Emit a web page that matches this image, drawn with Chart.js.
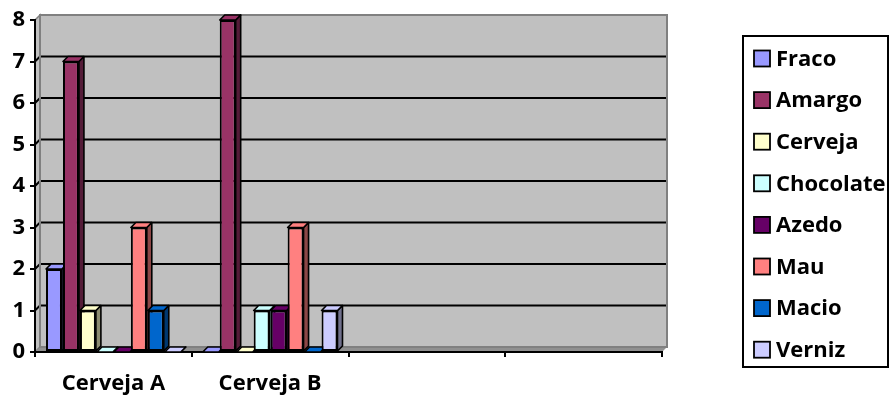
<!DOCTYPE html>
<html>
<head>
<meta charset="utf-8">
<script src="https://cdn.jsdelivr.net/npm/chart.js@4/dist/chart.umd.min.js"></script>
<style>
  html, body { margin: 0; padding: 0; background: #ffffff; }
  #wrap { width: 891px; height: 399px; position: relative; }
</style>
</head>
<body>
<div id="wrap"><canvas id="c" width="891" height="399"></canvas></div>
<script>
// Categories on the x axis (two beers, two empty slots)
const categories = ['Cerveja A', 'Cerveja B', '', ''];

// Descriptor series
const seriesNames = ['Fraco', 'Amargo', 'Cerveja', 'Chocolate', 'Azedo', 'Mau', 'Macio', 'Verniz'];
const fraco     = [2, 0, null, null];
const amargo    = [7, 8, null, null];
const cerveja   = [1, 0, null, null];
const chocolate = [0, 1, null, null];
const azedo     = [0, 1, null, null];
const mau       = [3, 3, null, null];
const macio     = [1, 0, null, null];
const verniz    = [0, 1, null, null];

// Value axis ticks
const yTicks = [0, 1, 2, 3, 4, 5, 6, 7, 8];

const seriesValues = [fraco, amargo, cerveja, chocolate, azedo, mau, macio, verniz];
const seriesColors = ['#9999FF', '#993366', '#FFFFCC', '#CCFFFF', '#660066', '#FF8080', '#0066CC', '#CCCCFF'];

const FONT = '"Open Sans", Lato, sans-serif';
const DEPTH = 5;

function shade(hex, f) {
  const n = parseInt(hex.slice(1), 16);
  const r = Math.round(((n >> 16) & 255) * f);
  const g = Math.round(((n >> 8) & 255) * f);
  const b = Math.round((n & 255) * f);
  return 'rgb(' + r + ',' + g + ',' + b + ')';
}

// Back wall, side wall, floor and wall gridlines
const wallPlugin = {
  id: 'wall',
  beforeDraw(chart) {
    const { ctx, chartArea: a, scales } = chart;
    const y = scales.y;
    const d = DEPTH;
    ctx.save();
    // side wall
    ctx.fillStyle = '#C0C0C0';
    ctx.strokeStyle = '#808080';
    ctx.lineWidth = 1.5;
    ctx.beginPath();
    ctx.moveTo(a.left, a.top);
    ctx.lineTo(a.left + d, a.top - d);
    ctx.lineTo(a.left + d, a.bottom - d);
    ctx.lineTo(a.left, a.bottom);
    ctx.closePath();
    ctx.fill();
    ctx.stroke();
    // back wall
    ctx.fillStyle = '#C0C0C0';
    ctx.fillRect(a.left + d, a.top - d, a.right - a.left, a.bottom - a.top);
    // floor
    ctx.fillStyle = '#909090';
    ctx.beginPath();
    ctx.moveTo(a.left, a.bottom);
    ctx.lineTo(a.left + d, a.bottom - d);
    ctx.lineTo(a.right + d, a.bottom - d);
    ctx.lineTo(a.right, a.bottom);
    ctx.closePath();
    ctx.fill();
    // gridlines on the wall
    ctx.strokeStyle = '#000000';
    ctx.lineWidth = 2;
    yTicks.forEach(v => {
      if (v === 0 || v === yTicks[yTicks.length - 1]) return;
      const py = y.getPixelForValue(v);
      ctx.beginPath();
      ctx.moveTo(a.left, py);
      ctx.lineTo(a.left + d, py - d);
      ctx.lineTo(a.right + d, py - d);
      ctx.stroke();
    });
    // wall outline
    ctx.strokeStyle = '#808080';
    ctx.lineWidth = 2;
    ctx.strokeRect(a.left + d, a.top - d, a.right - a.left, a.bottom - a.top);
    ctx.restore();
  }
};

// Bars are painted left to right, each with its side and top face,
// so that every bar hides the depth of its left neighbour.
const depthPlugin = {
  id: 'barDepth',
  beforeDatasetDraw() { return false; },
  afterDatasetsDraw(chart) {
    const { ctx } = chart;
    const d = DEPTH;
    const nCat = chart.data.labels.length;
    for (let c = 0; c < nCat; c++) {
      chart.data.datasets.forEach((ds, di) => {
        const raw = ds.data[c];
        if (raw === null || raw === undefined) return;
        const meta = chart.getDatasetMeta(di);
        const el = meta.data[c];
        if (!el) return;
        const p = el.getProps(['x', 'y', 'base', 'width'], true);
        const left = p.x - p.width / 2;
        const right = p.x + p.width / 2;
        const top = Math.min(p.y, p.base);
        const bottom = Math.max(p.y, p.base);
        // front face via the bar element itself
        el.draw(ctx, chart.chartArea);
        ctx.save();
        ctx.strokeStyle = '#000000';
        ctx.lineWidth = 1.6;
        ctx.lineJoin = 'round';
        // side
        ctx.fillStyle = shade(ds.backgroundColor, 0.55);
        ctx.beginPath();
        ctx.moveTo(right, top);
        ctx.lineTo(right + d, top - d);
        ctx.lineTo(right + d, bottom - d);
        ctx.lineTo(right, bottom);
        ctx.closePath();
        ctx.fill();
        ctx.stroke();
        // top
        ctx.fillStyle = ds.backgroundColor;
        ctx.beginPath();
        ctx.moveTo(left, top);
        ctx.lineTo(left + d, top - d);
        ctx.lineTo(right + d, top - d);
        ctx.lineTo(right, top);
        ctx.closePath();
        ctx.fill();
        ctx.stroke();
        ctx.restore();
      });
    }
  }
};

// Boxed legend on the right
const legendPlugin = {
  id: 'boxLegend',
  afterDraw(chart) {
    const { ctx } = chart;
    ctx.save();
    ctx.strokeStyle = '#000000';
    ctx.lineWidth = 2;
    ctx.strokeRect(743, 36, 145, 331);
    ctx.font = 'bold 22px ' + FONT;
    ctx.textBaseline = 'middle';
    ctx.textAlign = 'left';
    chart.data.datasets.forEach((ds, i) => {
      const cy = 58.5 + i * 41.6;
      ctx.fillStyle = ds.backgroundColor;
      ctx.fillRect(754, cy - 8, 16, 16);
      ctx.lineWidth = 1.8;
      ctx.strokeRect(754, cy - 8, 16, 16);
      ctx.fillStyle = '#000000';
      ctx.fillText(ds.label, 776, cy + 1);
    });
    ctx.restore();
  }
};

const datasets = seriesNames.map((name, i) => ({
  label: name,
  data: seriesValues[i],
  backgroundColor: seriesColors[i],
  borderColor: '#000000',
  borderWidth: 2,
  borderSkipped: false,
  barPercentage: 0.94,
  categoryPercentage: 0.866
}));

new Chart(document.getElementById('c'), {
  type: 'bar',
  data: { labels: categories, datasets },
  options: {
    responsive: false,
    animation: false,
    devicePixelRatio: 1,
    layout: { padding: { left: 0, top: 20, right: 229, bottom: 0 } },
    plugins: { legend: { display: false }, tooltip: { enabled: false } },
    scales: {
      x: {
        afterFit(scale) { scale.height = 47; },
        grid: { offset: true, drawOnChartArea: false, drawTicks: true, tickLength: 5, color: '#000000', lineWidth: 2 },
        border: { display: true, color: '#000000', width: 2 },
        ticks: { color: '#000000', font: { family: FONT, size: 22, weight: 'bold' }, padding: 14, maxRotation: 0 }
      },
      y: {
        min: 0, max: 8,
        afterFit(scale) { scale.width = 35; },
        afterBuildTicks(scale) { scale.ticks = yTicks.map(v => ({ value: v })); },
        grid: { drawOnChartArea: false, drawTicks: true, tickLength: 5, color: '#000000', lineWidth: 2 },
        border: { display: true, color: '#000000', width: 2 },
        ticks: { color: '#000000', font: { family: FONT, size: 22, weight: 'bold' }, padding: 5 }
      }
    }
  },
  plugins: [wallPlugin, depthPlugin, legendPlugin]
});
</script>
</body>
</html>
